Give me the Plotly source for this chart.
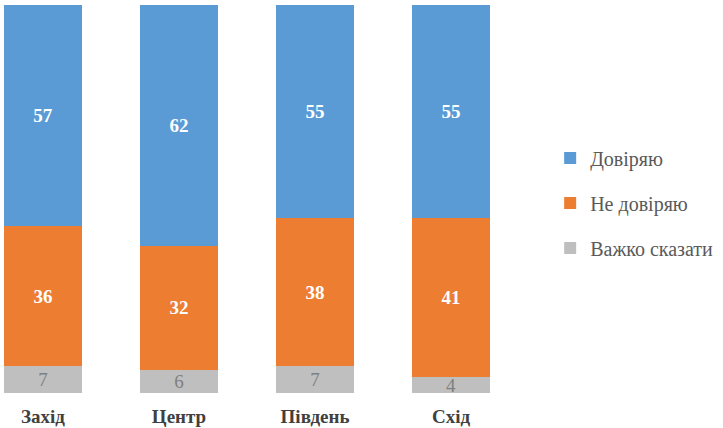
import plotly.graph_objects as go

categories = ["Захід", "Центр", "Південь", "Схід"]
trust = [57, 62, 55, 55]
distrust = [36, 32, 38, 41]
hard_to_say = [7, 6, 7, 4]
series_names = ["Довіряю", "Не довіряю", "Важко сказати"]

FONT = "Liberation Serif, Times New Roman, serif"

fig = go.Figure()
fig.add_trace(go.Bar(
    x=categories, y=hard_to_say, name=series_names[2], legendrank=3, legendgroup="g3",
    marker=dict(color="#BFBFBF", line=dict(width=0)),
    text=hard_to_say, textposition="inside", insidetextanchor="middle",
    constraintext="none",
    textfont=dict(family=FONT, size=19, color="#7F7F7F"), textangle=0,
))
fig.add_trace(go.Bar(
    x=categories, y=distrust, name=series_names[1], legendrank=2, legendgroup="g2",
    marker=dict(color="#ED7D31", line=dict(width=0)),
    text=distrust, textposition="inside", insidetextanchor="middle",
    constraintext="none",
    textfont=dict(family=FONT, size=19, color="white", weight="bold"), textangle=0,
))
fig.add_trace(go.Bar(
    x=categories, y=trust, name=series_names[0], legendrank=1, legendgroup="g1",
    marker=dict(color="#5B9BD5", line=dict(width=0)),
    text=trust, textposition="inside", insidetextanchor="middle",
    constraintext="none",
    textfont=dict(family=FONT, size=19, color="white", weight="bold"), textangle=0,
))

fig.update_layout(
    width=723, height=428,
    margin=dict(l=0, r=203, t=5, b=35),
    barmode="stack", bargap=0.426,
    plot_bgcolor="white", paper_bgcolor="white",
    xaxis=dict(range=[-0.316, 3.507], showgrid=False, zeroline=False, showline=False,
               ticks="outside", ticklen=6, tickcolor="rgba(0,0,0,0)",
               tickfont=dict(family=FONT, size=19, color="#404040", weight="bold")),
    yaxis=dict(range=[0, 100], visible=False),
    legend=dict(x=1.058, y=0.49, yanchor="middle", xanchor="left",
                traceorder="grouped", tracegroupgap=16,
                font=dict(family=FONT, size=20, color="#595959"),
                itemwidth=30),
    showlegend=True,
)

fig.write_html("out.html", config={"displayModeBar": False},
               post_script="document.body.style.margin='0';document.body.style.overflow='hidden';")
